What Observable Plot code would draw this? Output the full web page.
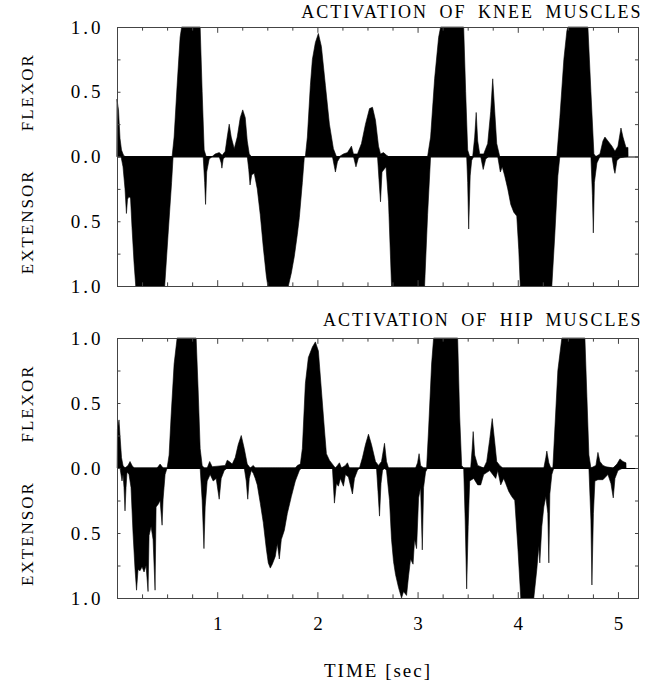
<!DOCTYPE html>
<html><head><meta charset="utf-8">
<script src="https://cdn.jsdelivr.net/npm/d3@7"></script>
<script src="https://cdn.jsdelivr.net/npm/@observablehq/plot@0.6"></script>
<style>
body{margin:0;background:#fff;}
#chart{width:662px;height:681px;}
#chart svg{display:block;}
</style></head><body><div id="chart"></div>
<script>
// ---- data (time in sec, activation 0..1) ----
const kneeFlexorT = [0.00,0.015,0.03,0.045,0.065,0.08, 0.55,0.57,0.60,0.63,0.645,0.83,0.85,0.87,0.89, 0.95,0.98,1.02,1.05,1.08,1.10,1.12,1.14,1.17,1.20,1.23,1.255,1.28,1.30,1.32,1.34, 1.88,1.90,1.93,1.95,1.98,2.01,2.04,2.08,2.12,2.16,2.19, 2.22,2.26,2.30,2.34,2.36,2.40,2.44,2.48,2.52,2.55,2.58,2.61,2.63,2.66,2.69,2.71, 3.10,3.13,3.17,3.21,3.23,3.46,3.48,3.50,3.52, 3.55,3.57,3.585,3.60,3.62,3.66,3.70,3.73,3.75,3.77,3.79,3.82, 4.39,4.42,4.46,4.49,4.50,4.70,4.73,4.76,4.78, 4.82,4.85,4.87,4.90,4.94,4.97,5.00,5.03,5.05,5.08,5.10,5.101];
const kneeFlexorV = [0.44,0.36,0.14,0.05,0.01,0, 0,0.15,0.55,0.92,1,1,0.5,0.05,0, 0,0.02,0.03,0.01,0.04,0.15,0.25,0.15,0.06,0.15,0.30,0.36,0.30,0.12,0.02,0, 0,0.15,0.55,0.75,0.88,0.95,0.85,0.55,0.25,0.06,0, 0,0.02,0.03,0.08,0.02,0.02,0.10,0.25,0.37,0.38,0.28,0.08,0.02,0.03,0.01,0, 0,0.15,0.60,0.92,1,1,0.5,0.05,0, 0,0.15,0.34,0.12,0.02,0.02,0.10,0.35,0.60,0.35,0.10,0, 0,0.30,0.75,0.97,1,1,0.5,0.02,0, 0.02,0.12,0.15,0.12,0.08,0.04,0.08,0.22,0.15,0.07,0.07,0];

const kneeExtensorT = [0.04,0.06,0.08,0.094,0.105,0.118,0.135,0.15,0.17,0.187,0.476,0.51,0.545,0.56, 0.86,0.875,0.884,0.895,0.92,0.95, 1.02,1.04,1.047,1.06,1.08, 1.30,1.315,1.328,1.345,1.37,1.40,1.43,1.46,1.49,1.505,1.71,1.74,1.77,1.80,1.82,1.85,1.87, 2.15,2.17,2.18,2.20,2.23, 2.36,2.385,2.41,2.43, 2.60,2.615,2.63,2.645,2.665,2.685,2.71,2.74,3.07,3.10,3.13, 3.49,3.50,3.51,3.525,3.54,3.56, 3.63,3.655,3.68,3.71, 3.80,3.826,3.845,3.87,3.90,3.93,3.96,3.99,4.01,4.025,4.34,4.37,4.40,4.42, 4.73,4.745,4.754,4.765,4.79,4.82, 4.94,4.96,4.97,4.99,5.02,5.10];
const kneeExtensorV = [0,0.08,0.25,0.44,0.33,0.31,0.32,0.55,0.82,1,1,0.6,0.2,0, 0,0.2,0.37,0.12,0.02,0, 0,0.05,0.09,0.02,0, 0,0.10,0.22,0.14,0.13,0.25,0.45,0.70,0.92,1,1,0.90,0.77,0.60,0.47,0.2,0, 0,0.08,0.12,0.04,0, 0,0.08,0.01,0, 0,0.18,0.35,0.12,0.10,0.08,0.35,1,1,0.45,0, 0,0.2,0.56,0.15,0.03,0, 0,0.10,0.02,0, 0,0.12,0.08,0.15,0.25,0.37,0.43,0.46,0.72,1,1,0.6,0.15,0, 0,0.3,0.59,0.20,0.05,0, 0,0.10,0.13,0.03,0.01,0];

const hipFlexorT = [0.005,0.02,0.03,0.045,0.06,0.08,0.11,0.13,0.15,0.17, 0.40,0.43,0.46, 0.50,0.52,0.54,0.57,0.60,0.79,0.81,0.83,0.85,0.87, 0.90,0.925,0.95,1.08,1.10,1.12,1.15,1.18,1.21,1.24,1.27,1.30,1.33,1.36,1.38, 1.78,1.80,1.83,1.85,1.88,1.91,1.95,1.98,2.01,2.04,2.07,2.09,2.12,2.16,2.18, 2.20,2.22,2.24,2.28,2.30,2.32, 2.42,2.45,2.48,2.51,2.54,2.58,2.61,2.64,2.67,2.69,2.71, 2.98,3.00,3.015,3.03,3.06, 3.09,3.11,3.14,3.16,3.40,3.42,3.44,3.46, 3.53,3.545,3.555,3.57,3.60,3.66,3.69,3.72,3.745,3.77,3.79,3.82,3.85, 4.26,4.28,4.29,4.31,4.33, 4.35,4.37,4.40,4.44,4.67,4.69,4.71,4.73, 4.78,4.80,4.82,4.85,4.88,4.95,4.99,5.02,5.05,5.08,5.081];
const hipFlexorV = [0.30,0.37,0.25,0.08,0.02,0,0.02,0.05,0.02,0, 0,0.03,0, 0,0.10,0.40,0.80,1,1,0.60,0.15,0.02,0, 0,0.05,0.01,0.02,0.06,0.05,0.03,0.08,0.18,0.25,0.15,0.03,0,0.02,0, 0,0.02,0.03,0.15,0.65,0.85,0.93,0.97,0.90,0.60,0.30,0.11,0.06,0.02,0, 0.02,0.04,0,0.02,0.04,0, 0,0.08,0.18,0.26,0.18,0.05,0.02,0.05,0.19,0.05,0, 0,0.04,0.11,0.02,0, 0,0.30,0.80,1,1,0.40,0.02,0, 0,0.15,0.28,0.10,0.02,0,0.05,0.22,0.38,0.20,0.05,0.02,0, 0,0.08,0.13,0.04,0, 0,0.30,0.75,1,1,0.55,0.10,0, 0.02,0.12,0.05,0.02,0.01,0,0.03,0.07,0.05,0.04,0];

const hipExtensorT = [0.03,0.05,0.06,0.07,0.08,0.09,0.10,0.12,0.14,0.16,0.18,0.195,0.21,0.23,0.25,0.27,0.29,0.31,0.32,0.34,0.36,0.38,0.39,0.41,0.43,0.45,0.46,0.48,0.50, 0.83,0.85,0.868,0.88,0.90,0.93,0.96,0.99,1.02,1.04,1.07,1.10, 1.27,1.29,1.305,1.32,1.34,1.36,1.38,1.40,1.43,1.46,1.49,1.51,1.53,1.55,1.58,1.60,1.62,1.64,1.67,1.70,1.74,1.78,1.82,1.84, 2.15,2.17,2.19,2.21,2.23,2.26,2.28,2.31,2.35,2.37,2.40,2.42, 2.59,2.605,2.62,2.635,2.65,2.67, 2.69,2.72,2.74,2.76,2.78,2.81,2.84,2.86,2.89,2.91,2.93,2.955,2.97,2.99,3.01,3.03,3.047,3.06,3.08,3.10, 3.46,3.475,3.49,3.505,3.52,3.56,3.60,3.63,3.66,3.72,3.78,3.80,3.83,3.86,3.88,3.91,3.94,3.97,4.00,4.03,4.16,4.19,4.21,4.22,4.24,4.26,4.28,4.30,4.31,4.32,4.34,4.36, 4.71,4.73,4.74,4.755,4.77,4.80,4.85,4.90,4.93,4.953,4.97,5.00,5.05];
const hipExtensorV = [0,0.10,0.05,0.15,0.33,0.15,0.03,0.05,0.15,0.50,0.78,0.94,0.78,0.79,0.76,0.80,0.75,0.95,0.52,0.45,0.55,0.94,0.30,0.28,0.25,0.44,0.24,0.05,0, 0,0.25,0.62,0.30,0.10,0.05,0.10,0.08,0.24,0.08,0.02,0, 0,0.10,0.24,0.08,0.02,0.04,0.08,0.13,0.27,0.42,0.62,0.73,0.77,0.74,0.68,0.58,0.70,0.55,0.48,0.35,0.22,0.10,0.02,0, 0,0.27,0.12,0.14,0.08,0.14,0.05,0.07,0.20,0.08,0.02,0, 0,0.18,0.37,0.12,0.02,0, 0.02,0.25,0.55,0.72,0.82,0.92,1,0.95,0.98,0.83,0.70,0.74,0.55,0.62,0.23,0.15,0.63,0.15,0.03,0, 0,0.40,0.93,0.45,0.10,0.08,0.13,0.13,0.05,0.02,0.08,0.02,0.13,0.08,0.12,0.18,0.22,0.25,0.60,1,1,0.78,0.60,0.73,0.45,0.30,0.22,0.35,0.73,0.20,0.05,0, 0,0.40,0.90,0.35,0.10,0.09,0.09,0.05,0.12,0.23,0.08,0.02,0];

const xTickValues = [1, 2, 3, 4, 5];
const xTickLabels = ["1", "2", "3", "4", "5"];
const yTickValues = [1, 0.5, 0, -0.5, -1];
const yTickLabels = ["1.0", "0.5", "0.0", "0.5", "1.0"];
const xMinorTicks = [0.25,0.5,0.75,1,1.25,1.5,1.75,2,2.25,2.5,2.75,3,3.25,3.5,3.75,4,4.25,4.5,4.75,5];
const yMinorTicks = [-0.75,-0.5,-0.25,0,0.25,0.5,0.75];
const titles = ["ACTIVATION OF KNEE MUSCLES", "ACTIVATION OF HIP MUSCLES"];
const sideLabels = ["FLEXOR", "EXTENSOR"];
const xLabel = "TIME [sec]";

const FONT = "'Liberation Serif', 'Times New Roman', Times, Tinos, 'Nimbus Roman', 'DejaVu Serif', 'Noto Serif', serif";

function panel(o) {
  const flex = o.flexT.map((t, i) => ({t, v: o.flexV[i]}));
  const ext = o.extT.map((t, i) => ({t, v: -o.extV[i]}));
  const txt = {fill: "black", fontFamily: FONT, lineAnchor: "middle"};
  const marks = [
    Plot.areaY(flex, {x: "t", y: "v", fill: "black", stroke: "black", strokeWidth: 0.6, curve: "linear"}),
    Plot.areaY(ext, {x: "t", y: "v", fill: "black", stroke: "black", strokeWidth: 0.6, curve: "linear"}),
    Plot.ruleY([0], {stroke: "black", strokeWidth: 1.2}),
    Plot.frame({stroke: "#444", strokeWidth: 1}),
    Plot.ruleX(xMinorTicks, {x: d => d, y1: -1, y2: d => Number.isInteger(d) ? -0.955 : -0.972, stroke: "#444"}),
    Plot.ruleX(xMinorTicks, {x: d => d, y1: 1, y2: d => Number.isInteger(d) ? 0.955 : 0.972, stroke: "#444"}),
    Plot.ruleY(yMinorTicks, {y: d => d, x1: 0, x2: 0.035, stroke: "#444"}),
    Plot.ruleY(yMinorTicks, {y: d => d, x1: 5.2, x2: 5.17, stroke: "#444"}),
    Plot.text(yTickValues, {...txt, y: d => d, text: (d, i) => yTickLabels[i], frameAnchor: "left", dx: -14, textAnchor: "end", fontSize: 19, ariaDescription: "ylabels"}),
    Plot.text([sideLabels[0]], {...txt, y: () => 0.5, text: d => d, frameAnchor: "left", dx: -90, rotate: -90, textAnchor: "middle", fontSize: 17, ariaDescription: "side"}),
    Plot.text([sideLabels[1]], {...txt, y: () => -0.5, text: d => d, frameAnchor: "left", dx: -90, rotate: -90, textAnchor: "middle", fontSize: 17, ariaDescription: "side"}),
    Plot.text([o.title], {...txt, text: d => d, frameAnchor: "top-right", dx: 4, dy: o.titleDy, textAnchor: "end", fontSize: 18, ariaDescription: "title"})
  ];
  if (o.showX) {
    marks.push(Plot.text(xTickValues, {...txt, x: d => d, text: (d, i) => xTickLabels[i], frameAnchor: "bottom", dy: 25, textAnchor: "middle", fontSize: 19, ariaDescription: "xlabels"}));
    marks.push(Plot.text([xLabel], {...txt, text: d => d, frameAnchor: "bottom", dy: 72, textAnchor: "middle", fontSize: 19, ariaDescription: "xtitle"}));
  }
  const svg = Plot.plot({
    width: 662, height: o.height,
    marginLeft: 117, marginRight: 24, marginTop: o.marginTop, marginBottom: o.marginBottom,
    x: {domain: [0, 5.2], axis: null},
    y: {domain: [-1, 1], axis: null},
    style: {background: "white", color: "black"},
    marks
  });
  const s = d3.select(svg);
  s.selectAll("text").style("font-family", FONT);
  s.selectAll('[aria-description="ylabels"] text').style("letter-spacing", "3px");
  s.selectAll('[aria-description="side"] text').style("letter-spacing", "2px");
  s.selectAll('[aria-description="title"] text').style("letter-spacing", "2px").style("word-spacing", "5px");
  s.selectAll('[aria-description="xtitle"] text').style("letter-spacing", "2px");
  return svg;
}

const chart = document.getElementById("chart");
chart.appendChild(panel({title: titles[0], flexT: kneeFlexorT, flexV: kneeFlexorV, extT: kneeExtensorT, extV: kneeExtensorV, height: 300, marginTop: 27, marginBottom: 14, titleDy: -15, showX: false}));
chart.appendChild(panel({title: titles[1], flexT: hipFlexorT, flexV: hipFlexorV, extT: hipExtensorT, extV: hipExtensorV, height: 381, marginTop: 38, marginBottom: 83, titleDy: -18, showX: true}));
</script>
</body></html>
